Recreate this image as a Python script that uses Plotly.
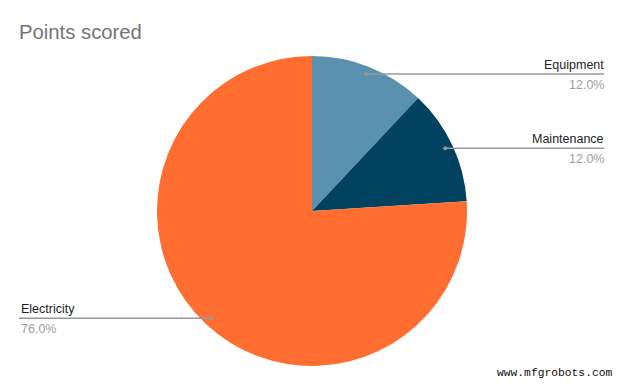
import math
import plotly.graph_objects as go

title = "Points scored"
labels = ["Equipment", "Maintenance", "Electricity"]
values = [12, 12, 76]
colors = ["#5a91ae", "#00425f", "#ff6d31"]

W, H = 624, 385
cx, cy, R = 312, 211, 155  # pie centre / radius in px

fig = go.Figure(go.Pie(
    labels=labels, values=values, sort=False, direction="clockwise", rotation=0,
    marker=dict(colors=colors, line=dict(width=0)),
    textinfo="none", hoverinfo="label+percent", showlegend=False,
    domain=dict(x=[(cx - R) / W, (cx + R) / W], y=[1 - (cy + R) / H, 1 - (cy - R) / H]),
))

total = sum(values)
cum = 0
shapes, annotations = [], []
fx = lambda x: x / W
fy = lambda y: 1 - y / H
for lab, v in zip(labels, values):
    mid = (cum + v / 2) / total * 2 * math.pi
    cum += v
    r = 0.95 * R
    px = cx + r * math.sin(mid)
    py = cy - r * math.cos(mid)
    right = math.sin(mid) >= 0
    xend = 604 if right else 19
    shapes.append(dict(type="line", xref="paper", yref="paper", x0=fx(px), y0=fy(py), x1=fx(xend), y1=fy(py),
                       line=dict(color="#999999", width=1.5)))
    shapes.append(dict(type="circle", xref="paper", yref="paper", x0=fx(px - 2), x1=fx(px + 2),
                       y0=fy(py + 2), y1=fy(py - 2), fillcolor="#999999", line=dict(width=0)))
    anchor = "right" if right else "left"
    annotations.append(dict(x=fx(xend), y=fy(py - 0.5), xref="paper", yref="paper", text=lab, showarrow=False,
                            xanchor=anchor, yanchor="bottom", xshift=(2 if right else 0),
                            font=dict(family="Arial", size=12.5, color="#222222")))
    annotations.append(dict(x=fx(xend), y=fy(py + 2), xref="paper", yref="paper", text=f"{v / total * 100:.1f}%",
                            showarrow=False, xanchor=anchor, yanchor="top", xshift=(2 if right else 0),
                            font=dict(family="Arial", size=12.5, color="#9e9e9e")))

annotations.append(dict(x=fx(614), y=fy(373), xref="paper", yref="paper", text="www.mfgrobots.com",
                        showarrow=False, xanchor="right", yanchor="middle",
                        font=dict(family="Liberation Mono", size=11.3, color="#111111")))

fig.update_layout(
    width=W, height=H, margin=dict(l=0, r=0, t=0, b=0),
    paper_bgcolor="white", plot_bgcolor="white",
    title=dict(text=title, x=19 / W, xanchor="left", y=1 - 32 / H, yanchor="middle",
               font=dict(family="Arial", size=20.3, color="#757575")),
    shapes=shapes, annotations=annotations,
)
fig.write_html("out.html")
